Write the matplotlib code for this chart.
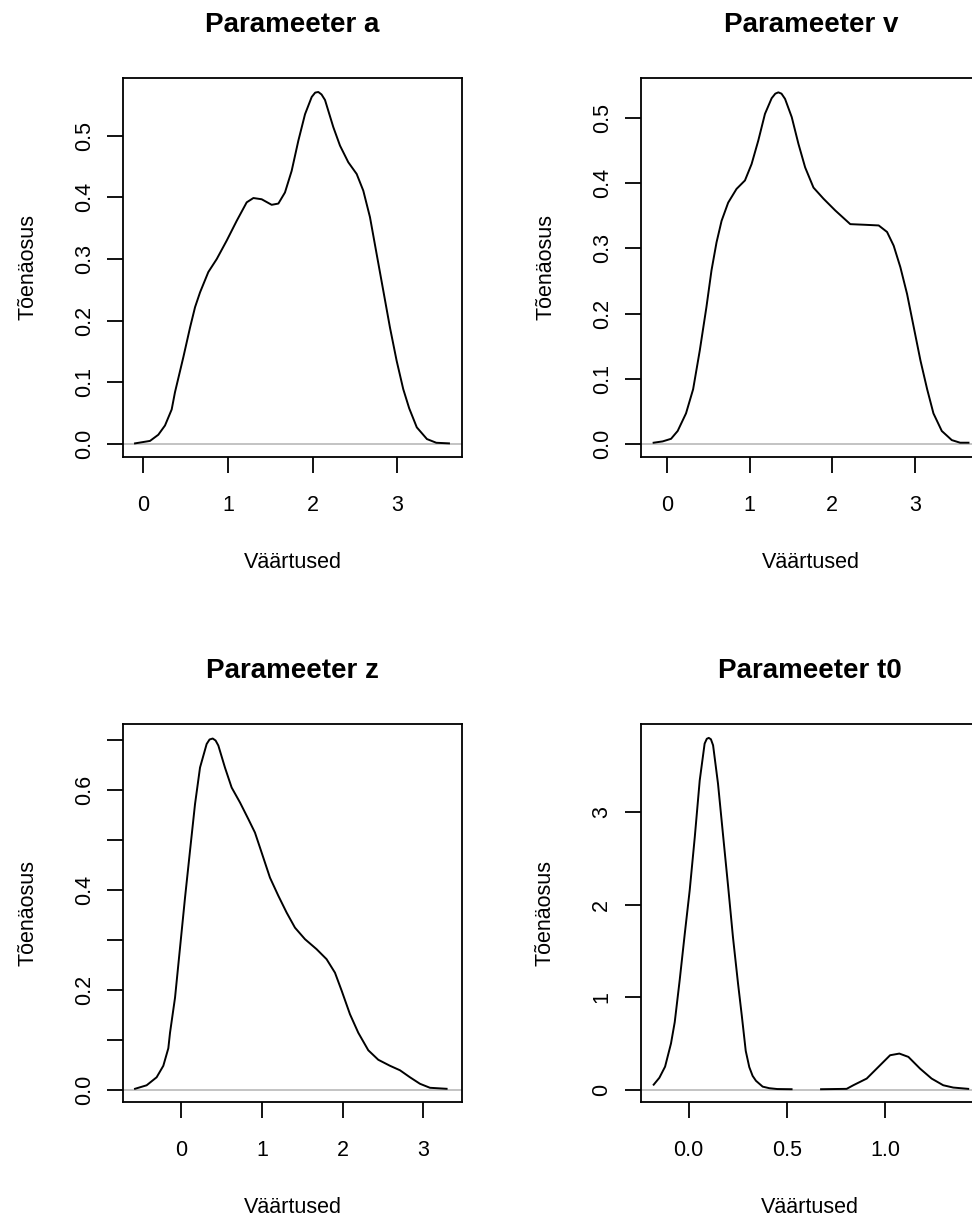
import numpy as np
import matplotlib
matplotlib.use("Agg")
import matplotlib.pyplot as plt

plt.rcParams["font.family"] = ["Liberation Sans", "DejaVu Sans"]

# density curves (x value, density)
a_x = [-0.098, 0.079, 0.177, 0.256, 0.335, 0.374, 0.473, 0.552, 0.611, 0.670, 0.768, 0.867, 0.985,
       1.103, 1.221, 1.300, 1.398, 1.516, 1.595, 1.673, 1.752, 1.831, 1.910, 1.989, 2.030, 2.067,
       2.105, 2.146, 2.244, 2.323, 2.421, 2.520, 2.598, 2.677, 2.756, 2.834, 2.913, 2.992, 3.070,
       3.140, 3.230, 3.350, 3.460, 3.610]
a_y = [0.001, 0.005, 0.015, 0.030, 0.056, 0.084, 0.141, 0.189, 0.222, 0.246, 0.279, 0.300, 0.330,
       0.362, 0.392, 0.399, 0.397, 0.388, 0.390, 0.408, 0.443, 0.492, 0.535, 0.563, 0.570, 0.571,
       0.567, 0.558, 0.514, 0.484, 0.457, 0.438, 0.411, 0.368, 0.308, 0.249, 0.189, 0.135, 0.089,
       0.058, 0.027, 0.008, 0.002, 0.001]

v_x = [-0.162, -0.053, 0.049, 0.129, 0.230, 0.316, 0.396, 0.477, 0.538, 0.599, 0.660, 0.740, 0.841,
       0.943, 1.023, 1.104, 1.185, 1.266, 1.310, 1.347, 1.385, 1.428, 1.509, 1.590, 1.671, 1.772,
       1.893, 2.035, 2.217, 2.399, 2.561, 2.662, 2.742, 2.823, 2.904, 2.985, 3.066, 3.147, 3.223,
       3.324, 3.445, 3.546, 3.647]
v_y = [0.002, 0.004, 0.008, 0.020, 0.047, 0.084, 0.143, 0.210, 0.266, 0.309, 0.342, 0.370, 0.391,
       0.404, 0.429, 0.465, 0.506, 0.530, 0.537, 0.539, 0.537, 0.529, 0.501, 0.460, 0.424, 0.393,
       0.376, 0.358, 0.337, 0.336, 0.335, 0.325, 0.304, 0.271, 0.230, 0.179, 0.128, 0.084, 0.047,
       0.020, 0.006, 0.002, 0.002]

z_x = [-0.574, -0.430, -0.306, -0.223, -0.161, -0.140, -0.078, -0.016, 0.046, 0.108, 0.170, 0.232,
       0.314, 0.350, 0.389, 0.425, 0.459, 0.541, 0.624, 0.728, 0.831, 0.913, 0.996, 1.099, 1.202,
       1.306, 1.409, 1.533, 1.677, 1.801, 1.905, 1.988, 2.091, 2.194, 2.318, 2.442, 2.587, 2.711,
       2.835, 2.959, 3.083, 3.289]
z_y = [0.002, 0.009, 0.025, 0.048, 0.083, 0.114, 0.184, 0.284, 0.384, 0.478, 0.571, 0.644, 0.691,
       0.700, 0.702, 0.698, 0.688, 0.644, 0.604, 0.574, 0.541, 0.514, 0.474, 0.424, 0.388, 0.354,
       0.324, 0.301, 0.281, 0.261, 0.234, 0.198, 0.151, 0.114, 0.079, 0.060, 0.048, 0.039, 0.025,
       0.012, 0.004, 0.002]

# t0 curve has a break between ~0.52 and ~0.67 (nan marks it)
t0_x = [-0.178, -0.149, -0.120, -0.090, -0.071, -0.046, -0.020, 0.005, 0.031, 0.056, 0.081, 0.092,
        0.102, 0.113, 0.124, 0.149, 0.174, 0.200, 0.225, 0.251, 0.270, 0.290, 0.308, 0.325, 0.342,
        0.376, 0.410, 0.450, 0.523, np.nan,
        0.673, 0.803, 0.837, 0.905, 0.973, 1.024, 1.071, 1.117, 1.176, 1.235, 1.294, 1.345, 1.421]
t0_y = [0.055, 0.130, 0.250, 0.500, 0.730, 1.180, 1.684, 2.152, 2.730, 3.340, 3.738, 3.790, 3.800,
        3.785, 3.720, 3.306, 2.765, 2.206, 1.649, 1.144, 0.800, 0.420, 0.245, 0.150, 0.097,
        0.034, 0.017, 0.008, 0.006, np.nan,
        0.006, 0.010, 0.049, 0.121, 0.265, 0.373, 0.391, 0.355, 0.229, 0.121, 0.049, 0.024, 0.010]

titles = ["Parameeter a", "Parameeter v", "Parameeter z", "Parameeter t0"]
curves = [(a_x, a_y), (v_x, v_y), (z_x, z_y), (t0_x, t0_y)]
xticks = [[0, 1, 2, 3], [0, 1, 2, 3], [0, 1, 2, 3], [0.0, 0.5, 1.0]]
xticklabels = [["0", "1", "2", "3"], ["0", "1", "2", "3"], ["0", "1", "2", "3"], ["0.0", "0.5", "1.0"]]
yticks = [[0, 0.1, 0.2, 0.3, 0.4, 0.5], [0, 0.1, 0.2, 0.3, 0.4, 0.5],
          [0, 0.1, 0.2, 0.3, 0.4, 0.5, 0.6, 0.7], [0, 1, 2, 3]]
yticklabels = [["0.0", "0.1", "0.2", "0.3", "0.4", "0.5"], ["0.0", "0.1", "0.2", "0.3", "0.4", "0.5"],
               ["0.0", "", "0.2", "", "0.4", "", "0.6", ""], ["0", "1", "2", "3"]]
xlims = [(-0.240, 3.764), (-0.311, 3.79), (-0.723, 3.48), (-0.244, 1.481)]
ylims = [(-0.0211, 0.5937), (-0.0199, 0.561), (-0.0244, 0.731), (-0.132, 3.95)]

# axes boxes in pixels: left, right, top, bottom (right column runs off the image)
W, H = 972, 1222
boxes = [(123, 462, 78, 457), (641.3, 980.3, 78, 457),
         (123, 462, 724, 1102), (640.7, 980, 724, 1102)]

fig = plt.figure(figsize=(W / 100, H / 100), dpi=100)
px = 0.72  # points per pixel at 100 dpi

for i in range(4):
    l, r, t, b = boxes[i]
    ax = fig.add_axes([l / W, 1 - b / H, (r - l) / W, (b - t) / H])
    ax.axhline(0, color="#BEBEBE", lw=1.3, zorder=1)
    ax.plot(curves[i][0], curves[i][1], color="black", lw=1.4, zorder=2)
    ax.set_xlim(*xlims[i])
    ax.set_ylim(*ylims[i])
    ax.set_xticks(xticks[i])
    ax.set_xticklabels(xticklabels[i], fontsize=15.5)
    ax.set_yticks(yticks[i])
    ax.set_yticklabels(yticklabels[i], fontsize=15.5, rotation=90, va="center")
    ax.tick_params(axis="x", direction="out", length=11.5, width=1.3, pad=15.8, colors="black")
    ax.tick_params(axis="y", direction="out", length=11.5, width=1.3, pad=8.9, colors="black")
    for s in ax.spines.values():
        s.set_linewidth(1.3)
    ax.annotate(titles[i], xy=(0.5, 1), xycoords="axes fraction", xytext=(0, 46.5 * px),
                textcoords="offset points", ha="center", va="baseline",
                fontsize=20, fontweight="bold")
    ax.annotate("Väärtused", xy=(0.5, 0), xycoords="axes fraction", xytext=(0, -111 * px),
                textcoords="offset points", ha="center", va="baseline", fontsize=15.5)
    ax.annotate("Tõenäosus", xy=(0, 0.5), xycoords="axes fraction", xytext=(-90 * px, 0),
                textcoords="offset points", ha="center", va="baseline", rotation=90,
                rotation_mode="anchor", fontsize=15.5)

fig.savefig("out.png", dpi=100)
